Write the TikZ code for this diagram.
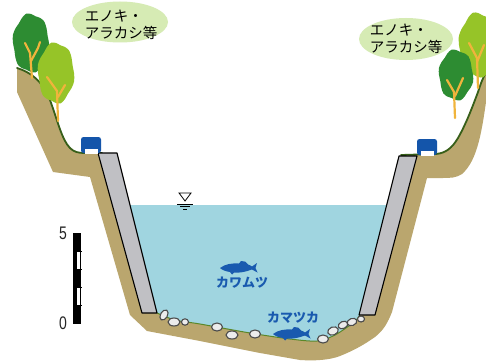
\documentclass[tikz,border=0pt]{standalone}
\usepackage{fontspec}
\setsansfont{Liberation Sans}
\newfontfamily\jpfont{Noto Sans CJK JP}
\usetikzlibrary{shapes.geometric}

\definecolor{soil}{RGB}{186,166,110}
\definecolor{water}{RGB}{160,213,224}
\definecolor{ground}{RGB}{55,95,25}
\definecolor{bedgreen}{RGB}{90,135,40}
\definecolor{wallgray}{RGB}{192,192,196}
\definecolor{stone}{RGB}{236,236,236}
\definecolor{fishblue}{RGB}{25,90,175}
\definecolor{carblue}{RGB}{20,85,170}
\definecolor{darkleaf}{RGB}{45,140,50}
\definecolor{lightleaf}{RGB}{150,196,40}
\definecolor{trunkcol}{RGB}{240,180,60}
\definecolor{tagfill}{RGB}{214,235,180}

\tikzset{
  wallbox/.style={fill=wallgray, draw=black, line width=1.1pt, line join=round},
  groundline/.style={draw=ground, line width=1.8pt, line cap=round},
  bedline/.style={draw=bedgreen, line width=1pt},
  pebble/.style={fill=stone, draw=black!70, line width=1.1pt},
  branch/.style={draw=trunkcol, line width=2.2pt, line cap=round},
  tag/.style={ellipse, fill=tagfill, inner sep=0pt},
  tagtext/.style={font=\jpfont\fontsize{14.5}{17}\selectfont, align=left, text=black},
  fishtext/.style={font=\jpfont\bfseries\fontsize{13}{13}\selectfont, text=fishblue},
  scaletext/.style={font=\sffamily\fontsize{14}{14}\selectfont, text=black!85}
}

% leafy crown: wavy ellipse
\newcommand\crown[5]{%
  \fill[#5] plot[smooth cycle, domain=0:345, samples=24, variable=\t]
    ({#1+#3*(1+0.045*sin(6*\t))*cos(\t)}, {#2+#4*(1+0.045*sin(6*\t))*sin(\t)});}

% fish, head at (#1,#2), facing left
\newcommand\fishat[2]{%
  \begin{scope}[shift={(#1,#2)}]
    \fill[fishblue] (0,0) .. controls (5,-4) and (12,-5) .. (19,-4.5)
      -- (21,-7) .. controls (24,-7.5) and (27,-6) .. (28,-3.5)
      .. controls (30,-3) and (31,-2) .. (32,-1.5)
      -- (37,-5) -- (35.5,0) -- (37.5,4.5) -- (32,1.5)
      .. controls (25,4) and (20,5) .. (14,4.5)
      -- (12,6.5) -- (10,4)
      .. controls (6,3.5) and (2,2) .. (0,0) -- cycle;
  \end{scope}}

% small car seen from the side, top-left corner at (#1,#2)
\newcommand\carat[2]{%
  \fill[carblue, rounded corners=2.5pt] (#1,#2) rectangle (#1+20,#2+16);
  \fill[white] (#1+3.5,#2+11.5) rectangle (#1+16.5,#2+16.5);}

\begin{document}
\begin{tikzpicture}[x=1pt, y=-1pt]
  \clip (0,0) rectangle (486,361);
  \fill[white] (0,0) rectangle (486,361);

  % earth of both banks and the channel bed
  \fill[soil] (17,68) .. controls (30,72) and (42,80) .. (50,100)
    .. controls (58,122) and (62,140) .. (70,148)
    .. controls (74,152) and (78,153) .. (85,153)
    -- (117,153) -- (130,205) -- (387,205) -- (399,156) -- (436,154)
    .. controls (446,153) and (452,148) .. (458,138)
    .. controls (466,124) and (472,108) .. (478,92)
    .. controls (481,83) and (483,77) .. (486,72)
    -- (487,95)
    .. controls (482,130) and (478,160) .. (462,174)
    .. controls (456,178) and (450,178) .. (442,178)
    -- (427,178) -- (392,312)
    .. controls (388,322) and (384,330) .. (375,337)
    .. controls (365,344) and (355,350) .. (340,356)
    .. controls (330,360) and (315,361) .. (300,360)
    -- (260,353) -- (200,341) -- (147,331) -- (130,315)
    -- (90,177) -- (53,172) -- (17,92) -- cycle;

  % water
  \fill[water] (130,205) -- (157,313) -- plot[smooth] coordinates
    {(157,313) (175,320) (200,324) (250,333) (290,339) (317,341) (335,335) (354,322) (360,315)}
    -- (387,205) -- cycle;
  \draw[bedline] plot[smooth] coordinates
    {(157,313) (175,320) (200,324) (250,333) (290,339) (317,341) (335,335) (354,322) (360,315)};

  % ground surface on the banks
  \draw[groundline] (17,68) .. controls (30,72) and (42,80) .. (50,100)
    .. controls (58,122) and (62,140) .. (70,148)
    .. controls (74,152) and (78,153) .. (85,153) -- (102,153);
  \draw[groundline] (401,155) -- (436,154)
    .. controls (446,153) and (452,148) .. (458,138)
    .. controls (466,124) and (472,108) .. (478,92)
    .. controls (481,83) and (483,77) .. (487,71);

  % revetment walls
  \draw[wallbox] (98,153) -- (117,153) -- (157,313) -- (142,313) -- cycle;
  \draw[wallbox] (399,156) -- (417,156) -- (375,315) -- (359,315) -- cycle;

  % stones on the bed
  \draw[pebble, rotate around={-30:(164,315)}] (164,315) ellipse [x radius=3.5, y radius=5.5];
  \draw[pebble] (174,322) ellipse [x radius=6, y radius=4];
  \draw[pebble] (185,322) ellipse [x radius=3.5, y radius=3.2];
  \draw[pebble] (217,327) ellipse [x radius=5.5, y radius=4];
  \draw[pebble] (232,335) ellipse [x radius=6, y radius=4];
  \draw[pebble] (255,334) ellipse [x radius=5.5, y radius=4];
  \draw[pebble] (323,339) ellipse [x radius=5.5, y radius=4];
  \draw[pebble, rotate around={20:(333,331)}] (333,331) ellipse [x radius=5.5, y radius=4];
  \draw[pebble, rotate around={25:(343,325)}] (343,325) ellipse [x radius=5, y radius=3.5];
  \draw[pebble, rotate around={20:(352,322)}] (352,322) ellipse [x radius=5, y radius=3.5];
  \draw[pebble] (361,319) ellipse [x radius=3.5, y radius=3];

  % fish and their names
  \fishat{220}{268}
  \fishat{273}{334}
  \node[fishtext] (kawamutsu) at (242,283) {カワムツ};
  \node[fishtext] (kamatsuka) at (293,318) {カマツカ};

  % cars on the embankment roads
  \carat{81}{137}
  \carat{417}{139}

  % trees, left bank
  \crown{31}{43}{18}{29}{darkleaf}
  \draw[branch] (32,78) -- (30,53) -- (25,43);
  \draw[branch] (31,61) -- (38,48) -- (40,42);
  \crown{56}{73}{18}{30}{lightleaf}
  \draw[branch] (58,121) -- (57,91) -- (47,77);
  \draw[branch] (58,97) -- (65,85);

  % trees, right bank
  \crown{478}{45}{19}{32}{lightleaf}
  \draw[branch] (478,88) -- (477,58) -- (469,43);
  \draw[branch] (477,62) -- (484,45);
  \crown{456}{75}{17}{25}{darkleaf}
  \draw[branch] (455,118) -- (454,92) -- (447,80);
  \draw[branch] (455,96) -- (463,78);

  % vegetation labels
  \node[tag, minimum width=96pt, minimum height=41pt] (tagL) at (120,22) {};
  \node[tagtext] (tagLtext) at (121,25) {エノキ・\\アラカシ等};
  \node[tag, minimum width=94pt, minimum height=42pt] (tagR) at (406,39) {};
  \node[tagtext] (tagRtext) at (406,38.5) {エノキ・\\アラカシ等};

  % water level mark
  \draw[fill=white, line width=0.8pt] (179,193) -- (191,193) -- (185,201) -- cycle;
  \draw[line width=0.8pt] (177,204) -- (193,204);
  \draw[line width=0.8pt] (180,206.7) -- (190,206.7);
  \draw[line width=0.8pt] (183,209.3) -- (187,209.3);

  % scale bar 0-5
  \fill[white] (73,233) rectangle (80,323);
  \fill[black] (73,233) rectangle (76.5,323);
  \fill[black] (73,233) rectangle (80,251.3);
  \fill[black] (73,269.3) rectangle (80,287.3);
  \fill[black] (73,305.3) rectangle (80,323);
  \draw[line width=0.8pt] (73,233) rectangle (80,323);
  \foreach \yy in {251.3,269.3,287.3,305.3} \draw[line width=0.8pt] (76,\yy) -- (81.5,\yy);
  \node[scaletext] (five) at (63,233) {\scalebox{1}[1.3]{5}};
  \node[scaletext] (zero) at (63,323) {\scalebox{1}[1.3]{0}};
\end{tikzpicture}
\end{document}
